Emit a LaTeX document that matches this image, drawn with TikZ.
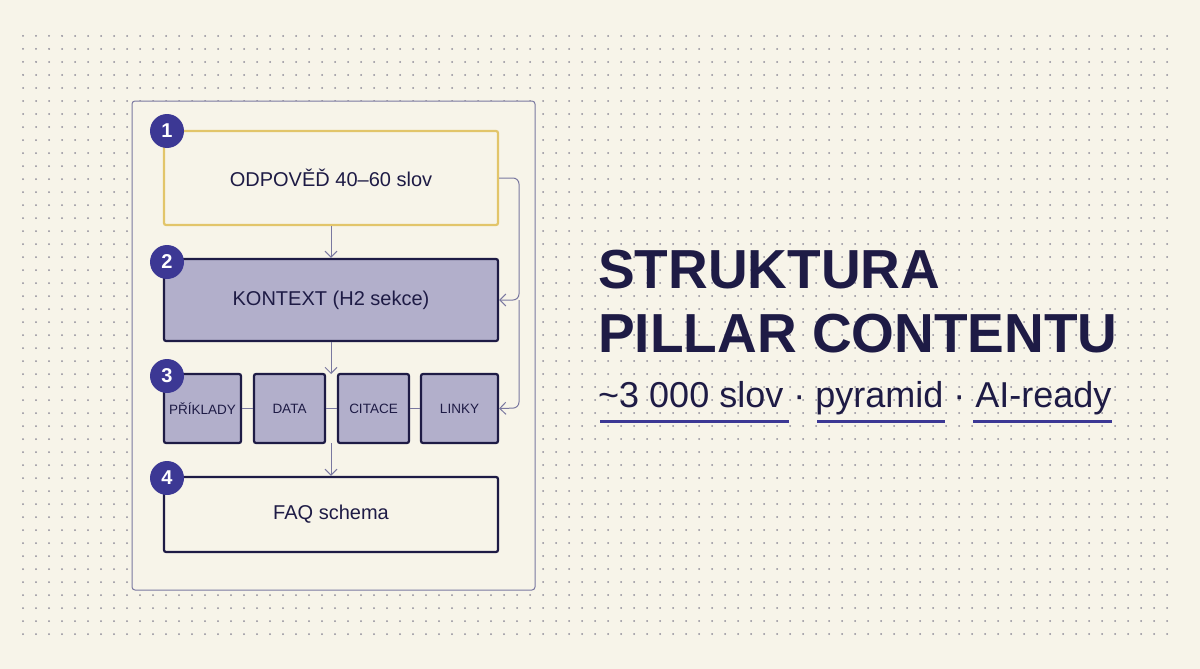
\documentclass[tikz,border=0pt]{standalone}
\usepackage{fontspec}
\setmainfont{Liberation Sans}
\usetikzlibrary{arrows.meta}
\definecolor{bg}{HTML}{F7F4E9}
\definecolor{navy}{HTML}{1E1B45}
\definecolor{indigo}{HTML}{3C3894}
\definecolor{lav}{HTML}{B2AFCB}
\definecolor{gold}{HTML}{E2C56A}
\definecolor{dotc}{HTML}{8E8C99}
\definecolor{conn}{HTML}{7A78A0}
\tikzset{
 bigbox/.style={draw=navy,line width=2.2pt,rounded corners=2pt,minimum width=334pt,inner sep=0pt,font=\fontsize{20}{24}\selectfont,text=navy},
 smallbox/.style={draw=navy,line width=2.2pt,rounded corners=2pt,fill=lav,minimum height=69pt,inner sep=0pt,font=\fontsize{13.5}{16}\selectfont,text=navy},
 badge/.style={circle,fill=indigo,minimum size=34pt,inner sep=0pt,text=white,font=\bfseries\fontsize{20}{24}\selectfont},
 arr/.style={draw=conn,line width=1pt,-{Straight Barb[length=6pt,width=12pt]}},
}
\begin{document}
\begin{tikzpicture}[x=1pt,y=-1pt]
\fill[bg] (0,0) rectangle (1200,669);
\useasboundingbox (0,0) rectangle (1200,669);
\foreach \i in {0,...,88}{\foreach \j in {0,...,46}{\fill[dotc] (23+13*\i,36+13*\j) circle (1pt);}}
\draw[draw=conn,fill=bg,line width=1pt,rounded corners=3pt] (132,101) rectangle (535,590);
\node[bigbox,draw=gold,fill=bg,minimum height=94pt] (b1) at (331,178) {ODPOVĚĎ 40–60 slov};
\node[bigbox,fill=lav,minimum height=82pt] (b2) at (331,300) {KONTEXT (H2 sekce)};
\node[smallbox,minimum width=77pt] (s1) at (202.5,408.5) {PŘÍKLADY};
\node[smallbox,minimum width=71pt] (s2) at (289.5,408.5) {DATA};
\node[smallbox,minimum width=71pt] (s3) at (373.5,408.5) {CITACE};
\node[smallbox,minimum width=77pt] (s4) at (459.5,408.5) {LINKY};
\node[bigbox,fill=bg,minimum height=75pt] (b4) at (331,514.5) {FAQ schema};
\draw[conn,line width=1pt] (s1) -- (s2) (s2) -- (s3) (s3) -- (s4);
\coordinate (t3) at (331,374);
\coordinate (t3b) at (331,443);
\draw[arr] (b1.south) -- (b2.north);
\draw[arr] (b2.south) -- (t3);
\draw[arr] (t3b) -- (b4.north);
\coordinate (r1) at (519,178);
\coordinate (r2) at (519,300);
\coordinate (r3) at (519,408);
\draw[arr,rounded corners=6pt] (b1.east) -- (r1) -- (r2) -- (b2.east);
\draw[arr,rounded corners=6pt] (r2) -- (r3) -- (s4.east);
\node[badge] (n1) at (167,131) {1};
\node[badge] (n2) at (167,262) {2};
\node[badge] (n3) at (167,376) {3};
\node[badge] (n4) at (167,478) {4};
\node[anchor=west,inner sep=0pt,text=navy,font=\bfseries\fontsize{55}{60}\selectfont] (t1) at (598,270) {STRUKTURA};
\node[anchor=west,inner sep=0pt,text=navy,font=\bfseries\fontsize{55}{60}\selectfont] (t2) at (598,334) {PILLAR CONTENTU};
\node[anchor=west,inner sep=0pt,text=navy,font=\fontsize{36}{40}\selectfont] (sub) at (598,398) {\textasciitilde3 000 slov · pyramid · AI-ready};
\fill[indigo] (600,419.5) rectangle (789,423);
\fill[indigo] (817,419.5) rectangle (945,423);
\fill[indigo] (973,419.5) rectangle (1112,423);
\end{tikzpicture}
\end{document}
